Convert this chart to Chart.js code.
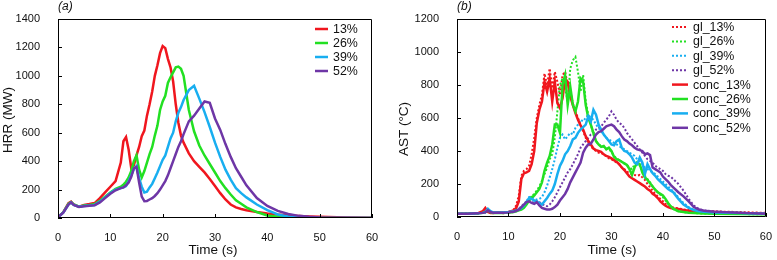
<!DOCTYPE html>
<html><head><meta charset="utf-8">
<script src="https://cdn.jsdelivr.net/npm/chart.js@4/dist/chart.umd.min.js"></script>
<style>
html,body{margin:0;padding:0;background:#fff;width:777px;height:260px;overflow:hidden}
#ca{position:absolute;left:0;top:0}
#cb{position:absolute;left:390px;top:0}
</style></head><body>
<canvas id="ca" width="390" height="260"></canvas>
<canvas id="cb" width="387" height="260"></canvas>
<script>
// ---------- Panel (a): HRR ----------
const hrrTime = [0,1,2,2.5,3,4,5,6,7,8,9,10,11,12,12.5,13,13.5,14,14.5,15,15.5,16,16.5,17,17.5,18,18.5,19,19.5,20,20.5,21,21.5,22,22.5,23,23.5,24,25,26,27,28,29,30,31,32,33,34,35,36,38,40,42,44,46,48,50,55,60];
const hrr13 = [5,40,105,115,95,80,92,98,105,140,180,220,260,390,540,570,480,350,370,440,500,575,615,720,800,890,1000,1075,1160,1210,1195,1120,1060,960,800,670,580,530,455,400,360,321,275,225,175,130,95,75,63,55,42,32,24,18,14,11,8,4,1];
const hrr26 = [5,40,100,112,95,80,88,92,98,120,150,180,205,220,235,255,285,330,400,440,340,285,330,390,450,500,580,650,760,820,860,950,990,1025,1060,1065,1050,1000,760,610,510,440,380,320,260,210,165,125,100,75,42,18,8,3,1,0,0,0,0];
const hrr39 = [5,38,95,110,92,80,85,88,92,115,145,175,200,210,215,225,260,300,345,365,280,220,180,185,215,240,280,320,365,410,440,500,560,600,680,740,780,830,900,930,840,745,640,530,430,340,270,210,175,145,95,55,25,10,4,1,0,0,0];
const hrr52 = [5,38,95,110,92,78,83,87,90,110,140,170,195,210,215,230,250,290,350,360,250,150,118,120,130,140,155,175,200,230,260,300,350,400,450,500,540,590,680,720,770,820,810,700,620,520,430,350,290,230,140,85,50,28,15,8,4,1,0];
const hrrLabels = ['13%','26%','39%','52%'];
const timeTicks = [0,10,20,30,40,50,60];
const hrrTicks = [0,200,400,600,800,1000,1200,1400];

// ---------- Panel (b): AST ----------
const astTime = [0,2,4,5,5.5,6,6.5,7,8,9,10,
 11,11.5,12,12.5,13,13.5,14,14.5,15,15.5,
 16,16.5,17,17.5,18,18.5,19,19.5,20,20.5,
 21,21.5,22,22.5,23,23.5,24,24.5,25,25.5,
 26,26.5,27,27.5,28,28.5,29,29.5,30,30.5,
 31,31.5,32,32.5,33,33.5,34,34.5,35,35.5,
 36,36.5,37,37.5,38,38.5,39,39.5,40,40.5,
 41,41.5,42,43,44,45,46,47,48,50,55,60];
const gl13 = [20,20,22,30,50,30,25,25,30,28,30,
 45,70,130,250,280,290,310,380,480,600,
 680,740,870,800,900,780,880,820,740,860,
 880,800,760,690,640,600,560,520,480,450,
 430,410,400,390,390,375,370,355,350,340,
 330,320,300,290,275,265,260,255,250,255,
 240,225,200,180,160,140,125,110,95,80,
 70,62,58,52,46,42,40,38,36,34,30,25];
const gl26 = [20,20,22,25,30,38,30,25,25,25,28,
 30,35,40,50,60,85,110,125,140,160,
 185,220,260,300,350,380,480,640,800,840,
 780,700,900,950,970,880,760,860,700,620,
 560,500,460,440,430,425,415,410,395,370,
 355,345,335,325,315,300,290,320,340,310,
 280,250,230,210,185,165,150,135,120,100,
 80,62,48,35,30,26,24,22,21,20,18,16];
const gl39 = [20,20,22,25,28,45,32,28,28,28,30,
 35,42,50,60,75,95,120,125,110,105,
 110,120,150,190,240,290,350,420,480,500,
 470,490,510,500,540,560,590,580,600,620,
 600,590,560,540,520,500,480,470,460,450,
 440,430,420,410,400,390,380,370,350,340,
 320,300,290,280,270,260,245,230,215,200,
 185,170,155,120,85,60,45,38,34,30,25,20];
const gl52 = [20,20,22,25,28,35,28,26,26,26,28,
 32,38,48,65,80,95,100,90,85,95,
 90,80,70,65,75,95,120,150,180,210,
 240,270,290,320,350,380,420,440,460,480,
 500,510,530,540,550,570,590,610,640,620,
 590,570,560,540,510,490,470,450,430,410,
 390,370,350,340,330,310,300,290,280,260,
 250,245,230,200,160,110,70,48,40,34,26,20];
const conc13 = [20,20,22,35,55,30,25,25,28,25,30,
 40,55,95,230,265,270,280,320,400,570,
 650,700,820,760,840,700,820,690,660,720,
 840,820,730,680,630,590,555,530,490,460,
 440,415,405,400,395,380,370,365,355,345,
 335,320,300,285,265,245,235,225,215,205,
 195,185,170,160,140,130,115,95,80,68,
 60,55,52,48,42,38,35,33,32,30,25,20];
const conc26 = [20,20,22,25,30,40,30,25,25,25,28,
 30,35,40,45,55,75,100,120,130,150,
 170,210,280,330,370,440,560,560,510,800,
 860,680,790,680,640,700,840,820,680,600,
 560,510,460,440,425,430,410,420,400,365,
 350,345,335,325,315,290,255,300,330,320,
 270,240,225,205,185,165,150,140,130,110,
 85,65,50,35,30,26,24,22,21,20,18,16];
const conc39 = [20,20,22,25,30,50,35,28,28,28,30,
 35,40,45,55,70,90,115,110,100,95,
 85,75,95,115,140,160,200,260,310,340,
 380,400,430,470,480,510,530,545,560,610,
 580,650,620,560,530,500,480,460,440,435,
 460,470,420,400,395,380,360,330,320,360,
 330,260,320,290,265,250,230,215,200,185,
 170,160,150,110,75,55,42,35,32,28,24,20];
const conc52 = [20,20,22,25,28,40,30,26,26,26,28,
 32,38,45,60,75,90,95,85,80,90,
 70,55,50,45,45,50,60,75,100,120,
 140,170,210,240,270,300,330,390,420,440,
 445,470,500,515,520,535,550,555,560,550,
 530,515,490,470,460,445,435,420,410,405,
 400,380,385,375,300,290,280,270,245,230,
 215,195,180,150,125,95,60,45,38,32,25,20];
const astLabels = ['gl_13%','gl_26%','gl_39%','gl_52%','conc_13%','conc_26%','conc_39%','conc_52%'];
const astTicks = [0,200,400,600,800,1000,1200];

const COLORS = ['#f0161e','#22e022','#18aef0','#6e36a6'];
const FONT = '"Liberation Sans", Arial, Helvetica, sans-serif';

function pts(xs, ys){ return xs.map((x,i)=>({x:x, y:ys[i]})); }

function decor(cfg){
  return {
    id:'decor',
    afterDraw(chart){
      const ctx = chart.ctx, a = chart.chartArea;
      const xs = chart.scales.x, ys = chart.scales.y;
      ctx.save();
      ctx.strokeStyle = '#000'; ctx.lineWidth = 1;
      ctx.beginPath();
      ctx.rect(Math.round(a.left)+0.5, Math.round(a.top)+0.5, Math.round(a.right-a.left)-1, Math.round(a.bottom-a.top)-1);
      ctx.stroke();
      ctx.beginPath();
      cfg.xt.forEach(v=>{ const p=Math.round(xs.getPixelForValue(v))+0.5; ctx.moveTo(p,a.bottom); ctx.lineTo(p,a.bottom-4); });
      cfg.yt.forEach(v=>{ const p=Math.round(ys.getPixelForValue(v))+0.5; ctx.moveTo(a.left,p); ctx.lineTo(a.left+4,p); });
      ctx.stroke();
      ctx.fillStyle = '#111';
      ctx.font = 'italic 12px '+FONT; ctx.textAlign='left'; ctx.textBaseline='middle';
      ctx.fillText(cfg.panel, cfg.panelX, 7);
      ctx.font = '13.5px '+FONT; ctx.textAlign='center';
      ctx.fillText('Time (s)', cfg.xTitleX, 250);
      ctx.save(); ctx.translate(cfg.yTitleX, cfg.yTitleY); ctx.rotate(-Math.PI/2);
      ctx.fillText(cfg.yTitle, 0, 0); ctx.restore();
      ctx.font = '12.4px '+FONT; ctx.textAlign='left';
      const ds = chart.data.datasets;
      cfg.legendOrder.forEach((di,i)=>{
        const d = ds[di]; const y = cfg.ly0 + i*cfg.ldy;
        ctx.save();
        ctx.strokeStyle = d.borderColor; ctx.lineWidth = d.borderWidth;
        ctx.setLineDash(d.borderDash || []);
        ctx.beginPath(); ctx.moveTo(cfg.lx0, y); ctx.lineTo(cfg.lx1, y); ctx.stroke();
        ctx.restore();
        ctx.fillStyle='#111';
        ctx.fillText(d.label, cfg.tx, y+0.5);
      });
      ctx.restore();
    }
  };
}

function makeScales(xt, yt, ymax, yWidth, xHeight){
  return {
    x:{type:'linear',min:0,max:60,
       afterBuildTicks:s=>{s.ticks=xt.map(v=>({value:v}));},
       grid:{display:false},border:{display:false},
       ticks:{font:{family:FONT,size:11},color:'#111',padding:5,maxRotation:0,autoSkip:false,callback:v=>String(v)},
       afterFit:s=>{s.height=xHeight;}},
    y:{type:'linear',min:0,max:ymax,
       afterBuildTicks:s=>{s.ticks=yt.map(v=>({value:v}));},
       grid:{display:false},border:{display:false},
       ticks:{font:{family:FONT,size:11},color:'#111',padding:10,autoSkip:false,callback:v=>String(v)},
       afterFit:s=>{s.width=yWidth;}}
  };
}

const common = {responsive:false,animation:false,devicePixelRatio:1,
  plugins:{legend:{display:false},tooltip:{enabled:false}},
  elements:{point:{radius:0},line:{tension:0}}};

const hrrSeries = [hrr13,hrr26,hrr39,hrr52];
new Chart(document.getElementById('ca'),{
  type:'line',
  data:{datasets:hrrSeries.map((s,i)=>({label:hrrLabels[i],data:pts(hrrTime,s),borderColor:COLORS[i],borderWidth:2.5,order:4-i,fill:false}))},
  options:Object.assign({},common,{
    layout:{padding:{top:19,right:18,left:0,bottom:0}},
    scales:makeScales(timeTicks,hrrTicks,1400,58,42)
  }),
  plugins:[decor({panel:'(a)',panelX:58,xt:timeTicks,yt:hrrTicks,xTitleX:213,yTitle:'HRR (MW)',yTitleX:8,yTitleY:120,
    legendOrder:[0,1,2,3],lx0:315,lx1:328,tx:333,ly0:29,ldy:14})]
});

const astSeries = [gl13,gl26,gl39,gl52,conc13,conc26,conc39,conc52];
new Chart(document.getElementById('cb'),{
  type:'line',
  data:{datasets:astSeries.map((s,i)=>({label:astLabels[i],data:pts(astTime,s),borderColor:COLORS[i%4],
    borderWidth:i<4?2:2.5,borderDash:i<4?[2,2]:[],order:8-i,fill:false}))},
  options:Object.assign({},common,{
    layout:{padding:{top:19,right:7,left:0,bottom:0}},
    scales:makeScales(timeTicks,astTicks,1200,67,43)
  }),
  plugins:[decor({panel:'(b)',panelX:67,xt:timeTicks,yt:astTicks,xTitleX:222,yTitle:'AST (°C)',yTitleX:14,yTitleY:129,
    legendOrder:[0,1,2,3,4,5,6,7],lx0:282,lx1:298,tx:303,ly0:27,ldy:14.4})]
});
</script>
</body></html>
